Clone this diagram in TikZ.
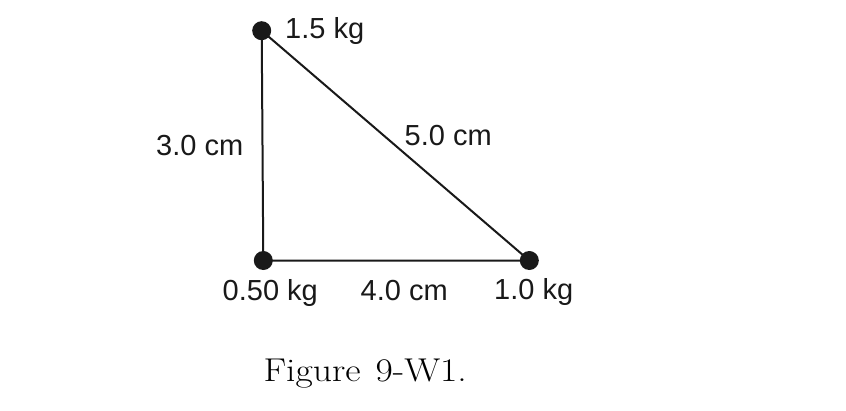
\documentclass[tikz,border=0pt]{standalone}
\usepackage{fontspec}
\setmainfont{Latin Modern Roman}
\newfontfamily\labelfont{Liberation Sans}
\begin{document}
\begin{tikzpicture}[x=1pt,y=-1pt,
  edge/.style={line width=2pt,draw={black!90}},
  mass/.style={circle,fill={black!90},minimum size=19pt,inner sep=0pt},
  lbl/.style={anchor=base west,inner sep=0pt,font=\labelfont\fontsize{29}{33}\selectfont,text={black!90}},
  figcap/.style={anchor=base west,inner sep=0pt,font=\fontsize{33}{38}\selectfont}]
\useasboundingbox (0,0) rectangle (846,410);
\fill[white] (0,0) rectangle (846,410);
\coordinate (A) at (261.7,30.7);
\coordinate (B) at (263.3,260.5);
\coordinate (C) at (529.3,260.5);
\draw[edge] (A) -- (B) -- (C) -- cycle;
\node[mass] (mA) at (A) {};
\node[mass] (mB) at (B) {};
\node[mass] (mC) at (C) {};
\node[lbl] (l1) at (285,38.3) {1.5 kg};
\node[lbl] (l2) at (156,155) {3.0 cm};
\node[lbl] (l3) at (404.5,145) {5.0 cm};
\node[lbl] (l4) at (222.5,300.7) {0.50 kg};
\node[lbl] (l5) at (360.5,300.7) {4.0 cm};
\node[lbl] (l6) at (494,299.3) {1.0 kg};
\node[figcap] (fig) at (263.3,381) {\scalebox{1.14}[1]{Figure\hspace{0.4em}9-W1.}};
\end{tikzpicture}
\end{document}
